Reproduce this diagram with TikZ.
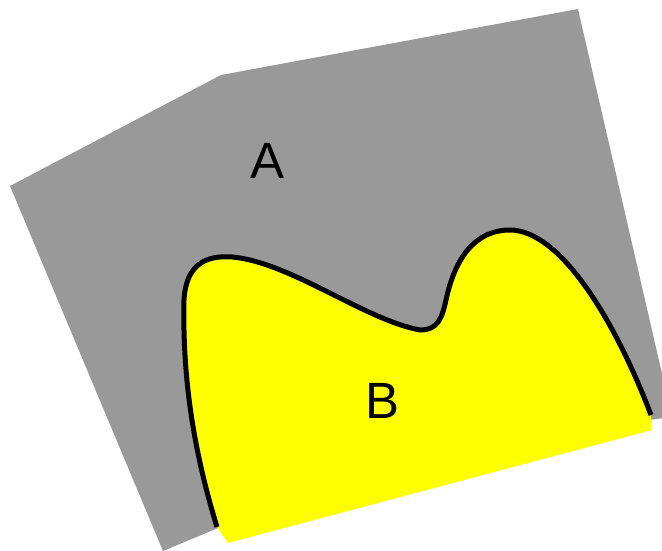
\documentclass[tikz,border=0pt]{standalone}
\usepackage{fontspec}
\setmainfont{Liberation Sans}
\usepackage{tikz}
\definecolor{regiongray}{RGB}{153,153,153}
\definecolor{regionyellow}{RGB}{255,255,0}

\begin{document}
\begin{tikzpicture}[x=1pt,y=-1pt,
  border/.style={draw=black,line width=5pt},
  setname/.style={font=\fontsize{51}{51}\selectfont,inner sep=0pt}]
\useasboundingbox (0,0) rectangle (662,551);
\clip (0,0) rectangle (662,551);

% region A
\fill[regiongray] (10,186) -- (221,75) -- (578,9) -- (672,417) -- (400,452) -- (163,551) -- cycle;

% region B
\fill[regionyellow] (217,527) .. controls (198,465) and (182,390) .. (184,300)
  .. controls (186,265) and (205,255) .. (232,257)
  .. controls (290,262) and (365,320) .. (420,330)
  .. controls (438,330) and (442,318) .. (446,300)
  .. controls (455,258) and (475,230) .. (510,230)
  .. controls (560,230) and (615,320) .. (651,415)
  -- (652,430) -- (228,543) -- cycle;
\draw[border] (217,527) .. controls (198,465) and (182,390) .. (184,300)
  .. controls (186,265) and (205,255) .. (232,257)
  .. controls (290,262) and (365,320) .. (420,330)
  .. controls (438,330) and (442,318) .. (446,300)
  .. controls (455,258) and (475,230) .. (510,230)
  .. controls (560,230) and (615,320) .. (651,415);

\node[setname] (A) at (268,161) {A};
\node[setname] (B) at (383,401) {B};
\end{tikzpicture}
\end{document}
